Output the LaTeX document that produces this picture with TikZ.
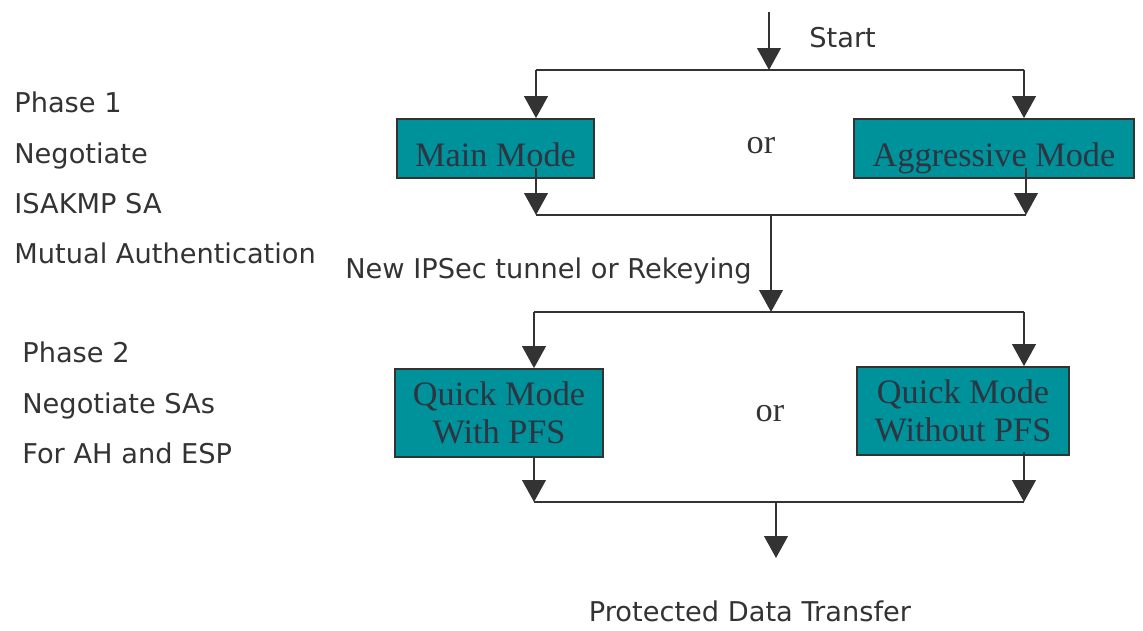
\documentclass[tikz,border=0pt]{standalone}
\usepackage{fontspec}
\newfontfamily\vfont{DejaVu Sans}
\newfontfamily\tfont{Liberation Serif}
\usetikzlibrary{arrows.meta, positioning}
\definecolor{modefill}{HTML}{00929B}
\definecolor{modetext}{HTML}{2E3440}
\definecolor{linecol}{HTML}{333333}
\definecolor{txtcol}{HTML}{333333}

\begin{document}
\begin{tikzpicture}[
  x=0.02cm, y=-0.02cm,
  node distance=0.49cm,
  mode/.style={draw=linecol, line width=1pt, fill=modefill, text=modetext, inner sep=0pt, align=center,
    font=\tfont\fontsize{19.5}{22}\selectfont},
  side/.style={font=\vfont\fontsize{15.5}{18}\selectfont, text=txtcol, inner sep=0pt, text height=11.3pt, text depth=3pt},
  ortext/.style={font=\tfont\fontsize{19.5}{22}\selectfont, text=txtcol, inner sep=0pt},
  bar/.style={draw=linecol, line width=1pt},
  flow/.style={bar, -{Triangle[width=13.5pt, length=12.5pt]}}
]
\useasboundingbox (0,0) rectangle (1143,631);

% phase labels on the left
\node[side, anchor=base west] (ph1) at (14,113) {Phase 1};
\node[side, below=of ph1.south west, anchor=north west] (neg1) {Negotiate};
\node[side, below=of neg1.south west, anchor=north west] (isakmp) {ISAKMP SA};
\node[side, below=of isakmp.south west, anchor=north west] (mutual) {Mutual Authentication};

\node[side, anchor=base west] (ph2) at (22,362.7) {Phase 2};
\node[side, below=of ph2.south west, anchor=north west] (neg2) {Negotiate SAs};
\node[side, below=of neg2.south west, anchor=north west] (ahesp) {For AH and ESP};

% mode boxes
\node[mode, minimum width=3.94cm, minimum height=1.18cm, text height=21pt, text depth=0pt] (mainmode) at (495.5,148.5) {Main Mode};
\node[mode, minimum width=5.6cm, minimum height=1.18cm, text height=21pt, text depth=0pt] (aggr) at (994,148.5) {Aggressive Mode};
\node[mode, minimum width=4.16cm, minimum height=1.76cm] (qmpfs) at (499,413) {Quick Mode\\With PFS};
\node[mode, minimum width=4.24cm, minimum height=1.76cm] (qmnopfs) at (963,411) {Quick Mode\\Without PFS};

\node[ortext, anchor=base] (or1) at (761,154) {or};
\node[ortext, anchor=base] (or2) at (770,422) {or};

\node[side, anchor=base west] (startlbl) at (809,47.7) {Start};
\node[side, anchor=base] (rekey) at (548.5,279) {New IPSec tunnel or Rekeying};
\node[side, anchor=base] (pdt) at (750,621.7) {Protected Data Transfer};

% bar ends
\coordinate (start) at (769,12);
\coordinate (t1l) at (536,70);
\coordinate (t1r) at (1024,70);
\coordinate (b1l) at (536,215);
\coordinate (b1r) at (1026,215);
\coordinate (mid1) at (771,215);
\coordinate (t2l) at (534,312);
\coordinate (t2r) at (1024,312);
\coordinate (b2l) at (534,502);
\coordinate (b2r) at (1024,502);
\coordinate (mid2) at (776,502);
\coordinate (endtip) at (776,558);

\draw[flow] (start) -- (start |- t1l);
\draw[bar] (t1l) -- (t1r);
\draw[flow] (t1l) -- (t1l |- mainmode.north);
\draw[flow] (t1r) -- (t1r |- aggr.north);
\draw[flow] ([yshift=6pt]mainmode.south -| b1l) -- (b1l);
\draw[flow] ([yshift=6pt]aggr.south -| b1r) -- (b1r);
\draw[bar] (b1l) -- (b1r);
\draw[flow] (mid1) -- (mid1 |- t2l);
\draw[bar] (t2l) -- (t2r);
\draw[flow] (t2l) -- (t2l |- qmpfs.north);
\draw[flow] (t2r) -- (t2r |- qmnopfs.north);
\draw[flow] (qmpfs.south -| b2l) -- (b2l);
\draw[flow] ([yshift=2pt]qmnopfs.south -| b2r) -- (b2r);
\draw[bar] (b2l) -- (b2r);
\draw[flow] (mid2) -- (endtip);
\end{tikzpicture}
\end{document}
